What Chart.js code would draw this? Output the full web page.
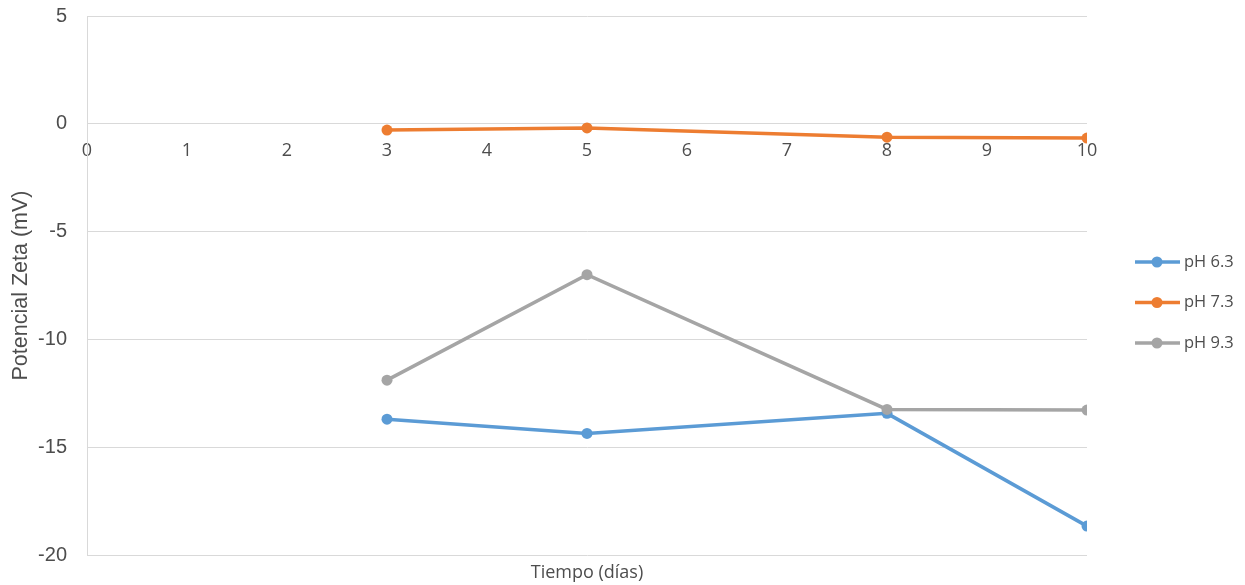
<!DOCTYPE html>
<html>
<head>
<meta charset="utf-8">
<script src="https://cdn.jsdelivr.net/npm/chart.js@4/dist/chart.umd.min.js"></script>
<style>
  html, body { margin: 0; padding: 0; background: #ffffff; }
  #wrap { width: 1245px; height: 585px; }
</style>
</head>
<body>
<div id="wrap"><canvas id="c" width="1245" height="585"></canvas></div>
<script>
// Measurement days
const dias = [3, 5, 8, 10];
// Zeta potential (mV) per pH
const ph63 = [-13.7, -14.36, -13.43, -18.66];
const ph73 = [-0.29, -0.19, -0.62, -0.66];
const ph93 = [-11.89, -7.0, -13.25, -13.28];
const seriesNames = ['pH 6.3', 'pH 7.3', 'pH 9.3'];
const seriesColors = ['#5B9BD5', '#ED7D31', '#A5A5A5'];
const yTicks = [-20, -15, -10, -5, 0, 5];
const xTicks = [0, 1, 2, 3, 4, 5, 6, 7, 8, 9, 10];

const textColor = '#4d4d4d';
const gridColor = '#d9d9d9';

function pts(values) {
  return dias.map((d, i) => ({ x: d, y: values[i] }));
}

function lineDataset(label, values, color, order) {
  return {
    label: label,
    data: pts(values),
    borderColor: color,
    backgroundColor: color,
    borderWidth: 3.5,
    pointRadius: 5.5,
    pointHoverRadius: 5.5,
    pointBorderWidth: 0,
    pointBackgroundColor: color,
    tension: 0,
    order: order
  };
}

// Legend on the right: short line with a marker, then the series name
const sideLegend = {
  id: 'sideLegend',
  afterDraw(chart) {
    const ctx = chart.ctx;
    const area = chart.chartArea;
    const x0 = area.right + 48;
    const midY = (area.top + area.bottom) / 2 + 17;
    const step = 40.5;
    ctx.save();
    seriesNames.forEach((name, i) => {
      const y = midY + (i - 1) * step;
      const c = seriesColors[i];
      ctx.strokeStyle = c;
      ctx.lineWidth = 3.5;
      ctx.beginPath();
      ctx.moveTo(x0, y);
      ctx.lineTo(x0 + 45, y);
      ctx.stroke();
      ctx.fillStyle = c;
      ctx.beginPath();
      ctx.arc(x0 + 22, y, 5.5, 0, Math.PI * 2);
      ctx.fill();
      ctx.fillStyle = textColor;
      ctx.font = '16.5px "Open Sans"';
      ctx.textAlign = 'left';
      ctx.textBaseline = 'middle';
      ctx.fillText(name, x0 + 49, y);
    });
    ctx.restore();
  }
};

// Horizontal axis title under the plot area
const bottomTitle = {
  id: 'bottomTitle',
  afterDraw(chart) {
    const ctx = chart.ctx;
    const area = chart.chartArea;
    ctx.save();
    ctx.fillStyle = textColor;
    ctx.font = '18px "Open Sans"';
    ctx.textAlign = 'center';
    ctx.textBaseline = 'middle';
    ctx.fillText('Tiempo (días)', (area.left + area.right) / 2, area.bottom + 18);
    ctx.restore();
  }
};

new Chart(document.getElementById('c'), {
  type: 'line',
  data: {
    datasets: [
      lineDataset(seriesNames[0], ph63, seriesColors[0], 3),
      lineDataset(seriesNames[1], ph73, seriesColors[1], 2),
      lineDataset(seriesNames[2], ph93, seriesColors[2], 1)
    ]
  },
  options: {
    responsive: false,
    animation: false,
    events: [],
    layout: { padding: { left: 0, right: 158, top: 16, bottom: 30 } },
    plugins: {
      legend: { display: false },
      tooltip: { enabled: false },
      title: { display: false }
    },
    scales: {
      x: {
        type: 'linear',
        position: { y: 0 },
        min: 0,
        max: 10,
        afterBuildTicks(scale) { scale.ticks = xTicks.map(v => ({ value: v })); },
        grid: { display: false, drawTicks: false },
        border: { display: false },
        ticks: {
          color: textColor,
          font: { family: '"Open Sans"', size: 18 },
          padding: 16,
          maxRotation: 0,
          autoSkip: false
        }
      },
      y: {
        type: 'linear',
        position: 'left',
        min: -20,
        max: 5,
        afterBuildTicks(scale) { scale.ticks = yTicks.map(v => ({ value: v })); },
        afterFit(scale) { scale.width = 87; },
        grid: { color: gridColor, lineWidth: 1, drawTicks: true, tickLength: 17, tickColor: 'rgba(0,0,0,0)' },
        border: { display: true, color: gridColor, width: 1 },
        ticks: {
          color: textColor,
          font: { family: '"Liberation Sans"', size: 20 },
          padding: 3
        },
        title: {
          display: true,
          text: 'Potencial Zeta (mV)',
          color: textColor,
          font: { family: '"Liberation Sans"', size: 21.5 },
          padding: { top: 8, bottom: 0 }
        }
      }
    }
  },
  plugins: [sideLegend, bottomTitle]
});
</script>
</body>
</html>
